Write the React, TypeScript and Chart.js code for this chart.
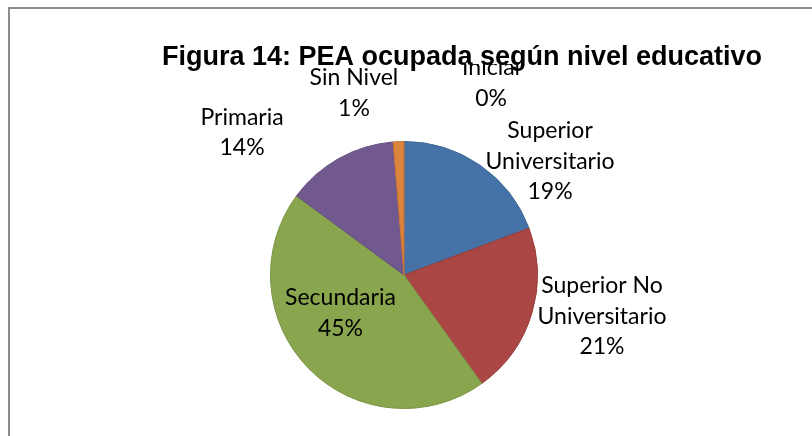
import React, { useEffect, useRef } from "react";
import { Chart, registerables } from "chart.js";

Chart.register(...registerables);

// ---- data ----
const categories = [
  "Superior Universitario",
  "Superior No Universitario",
  "Secundaria",
  "Primaria",
  "Sin Nivel",
  "Inicial",
];
const labelLines = [
  ["Superior", "Universitario"],
  ["Superior No", "Universitario"],
  ["Secundaria"],
  ["Primaria"],
  ["Sin Nivel"],
  ["Inicial"],
];
const values = [19.3, 20.8, 45.0, 13.6, 1.3, 0.0];
const titleText = "Figura 14: PEA ocupada según nivel educativo";

// ---- style ----
const fillColors = ["#4572A7", "#AA4643", "#89A54E", "#71588F", "#DB843D", "#4198AF"];
const borderColors = ["#3B6696", "#973C39", "#799445", "#634D80", "#C57534", "#3A879B"];
// label anchor (first-line baseline) in units of the pie radius, from the pie centre
const labelAnchors = [
  [1.094, -1.026],
  [1.483, 0.135],
  [-0.476, 0.225],
  [-1.213, -1.124],
  [-0.375, -1.423],
  [0.652, -1.496],
];
const LABEL_FONT = '23px Lato, "Open Sans", sans-serif';
const LINE_STEP = 30.5;
const TITLE_FONT = 'bold 27px "Liberation Sans", Arial, sans-serif';

const labelsPlugin = {
  id: "excelLabels",
  afterDatasetsDraw(chart: any) {
    const ctx = chart.ctx as CanvasRenderingContext2D;
    const meta = chart.getDatasetMeta(0);
    const total = values.reduce((a, b) => a + b, 0);
    ctx.save();
    ctx.font = LABEL_FONT;
    ctx.fillStyle = "#000";
    ctx.textAlign = "center";
    ctx.textBaseline = "alphabetic";
    meta.data.forEach((arc: any, i: number) => {
      const { x, y, outerRadius } = arc.getProps(["x", "y", "outerRadius"], true);
      const [fx, fy] = labelAnchors[i];
      const ax = x + fx * outerRadius;
      const ay = y + fy * outerRadius;
      const lines = [...labelLines[i], Math.round((values[i] / total) * 100) + "%"];
      lines.forEach((t, k) => ctx.fillText(t, ax, ay + k * LINE_STEP));
    });
    // title (drawn over labels, with a white box like the original)
    ctx.font = TITLE_FONT;
    const tw = ctx.measureText(titleText).width;
    const tcx = 462;
    const tby = 65;
    ctx.fillStyle = "#fff";
    ctx.fillRect(tcx - tw / 2 - 2, tby - 22, tw + 4, 21);
    ctx.fillStyle = "#000";
    ctx.fillText(titleText, tcx, tby);
    ctx.restore();
  },
};

export default function App() {
  const ref = useRef<HTMLCanvasElement | null>(null);
  useEffect(() => {
    if (!ref.current) return;
    const chart = new Chart(ref.current, {
      type: "pie",
      data: {
        labels: categories,
        datasets: [
          {
            data: values,
            backgroundColor: fillColors,
            borderColor: borderColors,
            borderWidth: 1,
          },
        ],
      },
      options: {
        responsive: false,
        animation: false,
        events: [],
        layout: { padding: { left: 270, right: 274, top: 141, bottom: 27 } },
        plugins: {
          legend: { display: false },
          title: { display: false },
          tooltip: { enabled: false },
        },
      },
      plugins: [labelsPlugin],
    });
    return () => chart.destroy();
  }, []);
  return (
    <div
      style={{
        position: "absolute",
        left: 0,
        top: 0,
        width: 812,
        height: 436,
        overflow: "hidden",
        background: "#fff",
      }}
    >
      <div
        style={{
          position: "absolute",
          left: 8,
          top: 7,
          width: 900,
          height: 600,
          border: "2px solid #8c8c8c",
        }}
      />
      <canvas
        ref={ref}
        width={812}
        height={436}
        style={{ position: "absolute", left: 0, top: 0 }}
      />
    </div>
  );
}
